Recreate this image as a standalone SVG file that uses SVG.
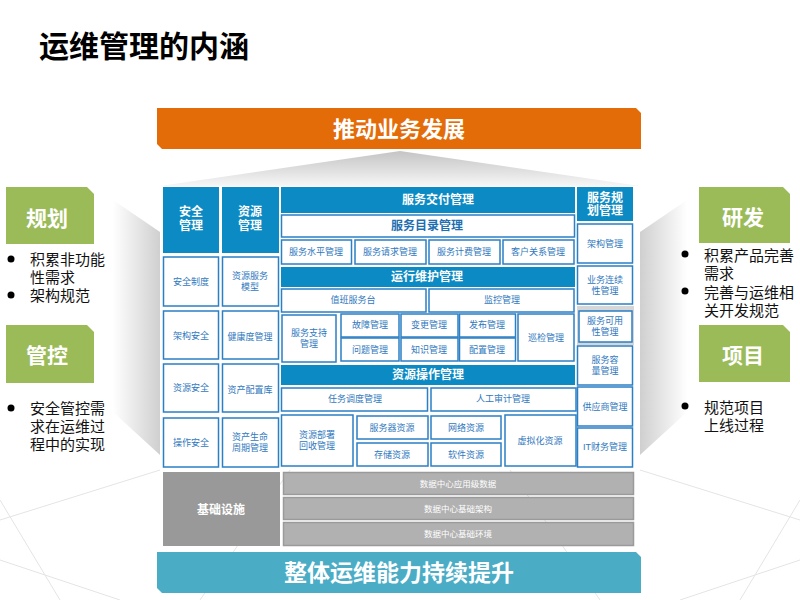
<svg xmlns="http://www.w3.org/2000/svg" width="800" height="600" viewBox="0 0 800 600">
<defs>
<style>
text{font-family:"Liberation Sans","Noto Sans CJK SC",sans-serif;text-anchor:middle;dominant-baseline:central}
.hd{fill:#0b8ac3}
.bx{fill:#fff;stroke:#2b7fc4;stroke-width:1.5}
.t{font-size:9px;fill:#2f78be}
.ht{font-size:12px;fill:#fff;font-weight:bold}
.bt{font-size:12px;fill:#1f6fb0;font-weight:bold}
.gt{font-size:21px;fill:#fff;font-weight:bold}
.bl{font-size:15px;fill:#111;text-anchor:start}
.gr{fill:#b1b1b1;stroke:#9a9a9a;stroke-width:1.5}
.dt{font-size:8.5px;fill:#fff}
.fl{stroke:#e4e4e4;stroke-width:1;fill:none}
</style>
<linearGradient id="roof" x1="0" y1="0" x2="0" y2="1">
<stop offset="0" stop-color="#c4c4c4"/>
<stop offset="1" stop-color="#f6f6f6"/>
</linearGradient>
<linearGradient id="wl" x1="0" y1="0" x2="1" y2="0">
<stop offset="0" stop-color="#ffffff"/>
<stop offset="1" stop-color="#cfcfcf"/>
</linearGradient>
<linearGradient id="wr" x1="0" y1="0" x2="1" y2="0">
<stop offset="0" stop-color="#cfcfcf"/>
<stop offset="1" stop-color="#ffffff"/>
</linearGradient>
</defs>
<rect width="800" height="600" fill="#fff"/>
<g id="floor">
<path class="fl" d="M0,520 L160,470 M0,560 L120,600 M640,470 L800,520 M680,600 L800,560 M200,600 L290,470 M600,600 L510,470 M0,500 L60,600 M800,500 L740,600"/>
</g>
<g id="title"><text x="144" y="46" style="font-size:30px;font-weight:bold;fill:#000">运维管理的内涵</text></g>
<g id="shading">
<polygon points="400,151 160,186 640,186" fill="url(#roof)"/>
<polygon points="113,200 160,232 160,455 113,412" fill="url(#wl)"/>
<polygon points="640,232 687,200 687,412 640,455" fill="url(#wr)"/>
</g>
<g id="banner-top">
<path d="M157,108 H636 L641,113 V149 H162 L157,144 Z" fill="#e36c09"/>
<text x="399" y="129" style="font-size:22px;font-weight:bold;fill:#fff">推动业务发展</text>
</g>
<g id="banner-bottom">
<path d="M157,552 H636 L641,557 V593 H162 L157,588 Z" fill="#4bacc6"/>
<text x="399" y="573" style="font-size:23px;font-weight:bold;fill:#fff">整体运维能力持续提升</text>
</g>
<g id="guihua">
<path d="M6,187 H87 L94,194 V244 H6 Z" fill="#9bbb59"/>
<text class="gt" x="47" y="218">规划</text>
<circle cx="11" cy="259" r="3.5" fill="#000"/>
<text class="bl" x="30" y="259">积累非功能</text>
<text class="bl" x="30" y="277">性需求</text>
<circle cx="11" cy="295" r="3.5" fill="#000"/>
<text class="bl" x="30" y="295">架构规范</text>
</g>
<g id="guankong">
<path d="M6,325 H87 L94,332 V383 H6 Z" fill="#9bbb59"/>
<text class="gt" x="47" y="355">管控</text>
<circle cx="11" cy="408" r="3.5" fill="#000"/>
<text class="bl" x="30" y="408">安全管控需</text>
<text class="bl" x="30" y="426">求在运维过</text>
<text class="bl" x="30" y="444">程中的实现</text>
</g>
<g id="yanfa">
<path d="M699,187 H783 L790,194 V243 H699 Z" fill="#9bbb59"/>
<text class="gt" x="743" y="217">研发</text>
<circle cx="685" cy="254" r="3.5" fill="#000"/>
<text class="bl" x="704" y="255">积累产品完善</text>
<text class="bl" x="704" y="273">需求</text>
<circle cx="685" cy="291" r="3.5" fill="#000"/>
<text class="bl" x="704" y="292">完善与运维相</text>
<text class="bl" x="704" y="310">关开发规范</text>
</g>
<g id="xiangmu">
<path d="M699,325 H783 L790,332 V382 H699 Z" fill="#9bbb59"/>
<text class="gt" x="743" y="355">项目</text>
<circle cx="685" cy="406" r="3.5" fill="#000"/>
<text class="bl" x="704" y="407">规范项目</text>
<text class="bl" x="704" y="425">上线过程</text>
</g>
<g id="col-anquan">
<rect class="hd" x="163" y="187" width="56" height="66"/>
<text class="ht" x="191" y="212">安全</text><text class="ht" x="191" y="226">管理</text>
<rect class="bx" x="163.5" y="257" width="55" height="49"/><text class="t" x="191" y="282">安全制度</text>
<rect class="bx" x="163.5" y="311" width="55" height="48"/><text class="t" x="191" y="336">架构安全</text>
<rect class="bx" x="163.5" y="364" width="55" height="48"/><text class="t" x="191" y="388">资源安全</text>
<rect class="bx" x="163.5" y="418" width="55" height="49"/><text class="t" x="191" y="443">操作安全</text>
</g>
<g id="col-ziyuan">
<rect class="hd" x="222" y="187" width="57" height="66"/>
<text class="ht" x="250" y="212">资源</text><text class="ht" x="250" y="226">管理</text>
<rect class="bx" x="222.5" y="257" width="56" height="49"/><text class="t" x="250" y="276">资源服务</text><text class="t" x="250" y="287">模型</text>
<rect class="bx" x="222.5" y="311" width="56" height="48"/><text class="t" x="250" y="337">健康度管理</text>
<rect class="bx" x="222.5" y="364" width="56" height="48"/><text class="t" x="250" y="390">资产配置库</text>
<rect class="bx" x="222.5" y="418" width="56" height="49"/><text class="t" x="250" y="437">资产生命</text><text class="t" x="250" y="448">周期管理</text>
</g>
<g id="fuwu-jiaofu">
<rect class="hd" x="281" y="187" width="294" height="26"/>
<text class="ht" x="438" y="200">服务交付管理</text>
<rect class="bx" x="281.5" y="215" width="293" height="22"/>
<text class="bt" x="427" y="226">服务目录管理</text>
<rect class="bx" x="281.5" y="240" width="70" height="24"/><text class="t" x="316" y="252">服务水平管理</text>
<rect class="bx" x="355" y="240" width="71" height="24"/><text class="t" x="390" y="252">服务请求管理</text>
<rect class="bx" x="429" y="240" width="71" height="24"/><text class="t" x="464" y="252">服务计费管理</text>
<rect class="bx" x="503" y="240" width="71" height="24"/><text class="t" x="538" y="252">客户关系管理</text>
</g>
<g id="yunxing-weihu">
<rect class="hd" x="281" y="267" width="294" height="20"/>
<text class="ht" x="427" y="277">运行维护管理</text>
<rect class="bx" x="281.5" y="289" width="144.5" height="23"/><text class="t" x="353" y="300">值班服务台</text>
<rect class="bx" x="429" y="289" width="145" height="23"/><text class="t" x="502" y="300">监控管理</text>
<rect class="bx" x="282" y="315" width="54" height="47"/><text class="t" x="309" y="333">服务支持</text><text class="t" x="309" y="344">管理</text>
<rect class="bx" x="341" y="314" width="58" height="23"/><text class="t" x="370" y="325">故障管理</text>
<rect class="bx" x="341" y="338" width="58" height="23"/><text class="t" x="370" y="350">问题管理</text>
<rect class="bx" x="401" y="314" width="57" height="23"/><text class="t" x="429" y="325">变更管理</text>
<rect class="bx" x="401" y="338" width="57" height="23"/><text class="t" x="429" y="350">知识管理</text>
<rect class="bx" x="459.5" y="314" width="56" height="23"/><text class="t" x="487" y="325">发布管理</text>
<rect class="bx" x="459.5" y="338" width="56" height="23"/><text class="t" x="487" y="350">配置管理</text>
<rect class="bx" x="518" y="314" width="56" height="47"/><text class="t" x="546" y="338">巡检管理</text>
</g>
<g id="ziyuan-caozuo">
<rect class="hd" x="281" y="365" width="294" height="20"/>
<text class="ht" x="428" y="375">资源操作管理</text>
<rect class="bx" x="281.5" y="388" width="146" height="23"/><text class="t" x="355" y="399">任务调度管理</text>
<rect class="bx" x="431" y="388" width="145" height="23"/><text class="t" x="503" y="399">人工审计管理</text>
<rect class="bx" x="281.5" y="415" width="71.5" height="51"/><text class="t" x="317" y="435">资源部署</text><text class="t" x="317" y="446">回收管理</text>
<rect class="bx" x="357" y="416" width="71" height="23"/><text class="t" x="392" y="428">服务器资源</text>
<rect class="bx" x="357" y="443" width="71" height="23"/><text class="t" x="392" y="455">存储资源</text>
<rect class="bx" x="431" y="416" width="70" height="23"/><text class="t" x="466" y="428">网络资源</text>
<rect class="bx" x="431" y="443" width="70" height="23"/><text class="t" x="466" y="455">软件资源</text>
<rect class="bx" x="505" y="415" width="71" height="51"/><text class="t" x="540" y="441">虚拟化资源</text>
</g>
<g id="fuwu-guihua">
<rect class="hd" x="577" y="187" width="56" height="34"/>
<text class="ht" x="605" y="198">服务规</text><text class="ht" x="605" y="211">划管理</text>
<rect class="bx" x="577.5" y="224" width="55" height="39"/><text class="t" x="605" y="244">架构管理</text>
<rect class="bx" x="577.5" y="266" width="55" height="38"/><text class="t" x="605" y="280">业务连续</text><text class="t" x="605" y="291">性管理</text>
<rect x="577" y="306" width="57" height="39" fill="#d6d6d6"/>
<rect class="bx" x="579" y="311" width="53" height="31"/><text class="t" x="605" y="321">服务可用</text><text class="t" x="605" y="332">性管理</text>
<rect class="bx" x="577.5" y="346" width="55" height="39"/><text class="t" x="605" y="360">服务容</text><text class="t" x="605" y="371">量管理</text>
<rect class="bx" x="577.5" y="387" width="55" height="39"/><text class="t" x="605" y="407">供应商管理</text>
<rect class="bx" x="577.5" y="428" width="55" height="39"/><text class="t" x="605" y="447">IT财务管理</text>
</g>
<g id="jichu">
<rect x="163" y="472" width="117" height="74" fill="#999"/>
<text class="ht" x="221" y="510">基础设施</text>
<rect class="gr" x="283.5" y="472.5" width="350" height="22"/><text class="dt" x="458" y="484">数据中心应用级数据</text>
<rect class="gr" x="283.5" y="497.5" width="350" height="22"/><text class="dt" x="458" y="509">数据中心基础架构</text>
<rect class="gr" x="283.5" y="522.5" width="350" height="23"/><text class="dt" x="458" y="534">数据中心基础环境</text>
</g>
<g id="connectors"/>
</svg>
